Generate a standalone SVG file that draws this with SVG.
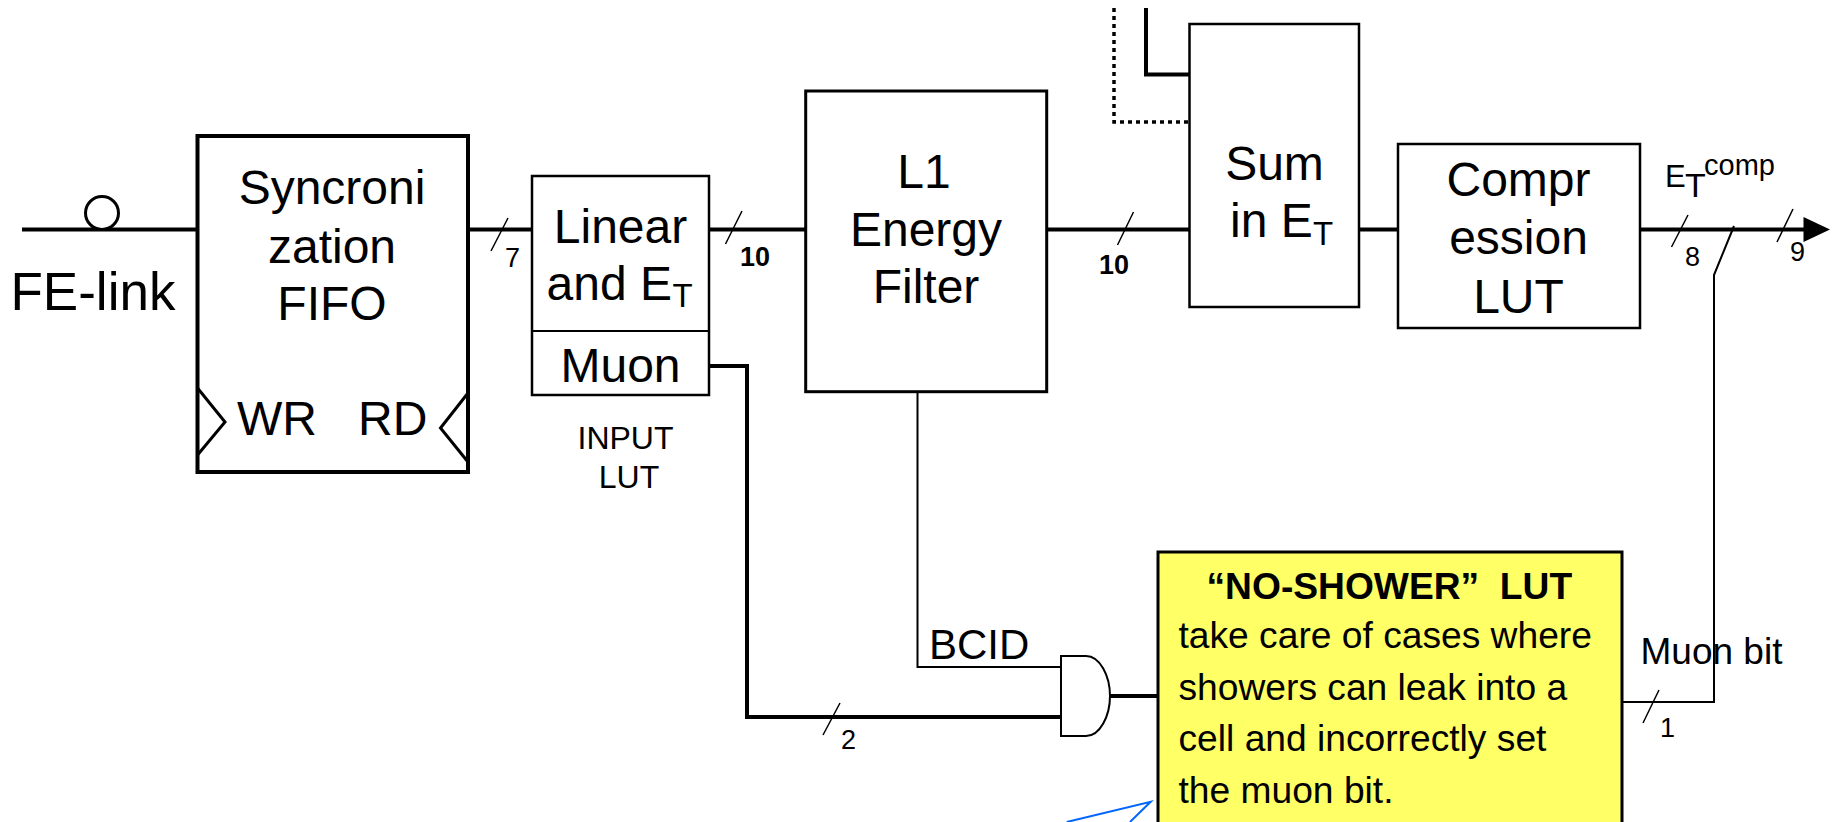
<svg xmlns="http://www.w3.org/2000/svg" width="1837" height="822" viewBox="0 0 1837 822">
<style>
text{font-family:"Liberation Sans",Arial,sans-serif;fill:#000;white-space:pre}
.box{fill:#fff;stroke:#000;stroke-width:2.5}
.thick{fill:none;stroke:#000;stroke-width:4}
.thin{fill:none;stroke:#000;stroke-width:2}
.tick{fill:none;stroke:#000;stroke-width:1.5}
.big{font-size:48px;text-anchor:middle}
.sub{font-size:33px}
.num{font-size:27px}
.numb{font-size:27px;font-weight:bold}
.body{font-size:37.200px}
</style>
<rect width="1837" height="822" fill="#fff"/>
<g id="connectors">
<path class="thick" d="M22 229.500H197M468 229.500H532M709 229.500H806M1045 229.500H1189M1359 229.500H1398M1640 229.500H1806"/>
<path class="thick" d="M709 366H747V717H1061"/>
<path class="thick" d="M1146 8V74.500H1189"/>
<path d="M1114 8V122H1189" fill="none" stroke="#000" stroke-width="3.500" stroke-dasharray="4 4"/>
<path class="thick" d="M1110 696H1158"/>
<path class="thin" d="M917.500 391V667H1061"/>
<path class="thin" d="M1622 702H1714V275L1734 226"/>
<polygon points="1830,229.500 1803.500,217 1803.500,242" fill="#000"/>
<path class="tick" d="M491 251L508 218M725.500 244L742 211M1117.500 245L1133.500 212M1671.500 247L1688 215M1777 242L1793 209M823 735L840 703M1643 723L1659 690"/>
<path d="M1066.700 822L1150.700 801.700L1130 822" fill="none" stroke="#0066ff" stroke-width="2"/>
</g>
<g id="fe-link">
<circle cx="102" cy="213" r="16.500" fill="#fff" stroke="#000" stroke-width="3"/>
<text x="10.500" y="310" font-size="53">FE-link</text>
</g>
<g id="sync-fifo">
<rect x="197.500" y="136" width="270.500" height="336" fill="#fff" stroke="#000" stroke-width="4"/>
<path fill="none" stroke="#000" stroke-width="3" d="M197.500 388L225 422L197.500 455M468 393L440.500 428L468 462"/>
<text class="big" x="332" y="204">Syncroni</text>
<text class="big" x="332" y="262.500">zation</text>
<text class="big" x="332" y="320">FIFO</text>
<text x="237" y="435" font-size="48">WR</text>
<text x="358" y="435" font-size="48">RD</text>
</g>
<g id="input-lut">
<rect class="box" x="532" y="176" width="177" height="219"/>
<path class="thin" d="M532 331H709"/>
<text class="big" x="620.500" y="242.500">Linear</text>
<text x="546.500" y="300" font-size="48">and E</text>
<text class="sub" x="672.500" y="307">T</text>
<text class="big" x="620.500" y="381.500">Muon</text>
<text x="625.500" y="449" font-size="32" text-anchor="middle">INPUT</text>
<text x="629" y="488" font-size="32" text-anchor="middle">LUT</text>
</g>
<g id="l1-filter">
<rect x="805.700" y="91" width="241" height="300.700" fill="#fff" stroke="#000" stroke-width="3"/>
<text class="big" x="924" y="188">L1</text>
<text class="big" x="926" y="246">Energy</text>
<text class="big" x="926" y="303">Filter</text>
</g>
<g id="sum">
<rect class="box" x="1189.500" y="24" width="169.500" height="283"/>
<text class="big" x="1274.500" y="180">Sum</text>
<text x="1230" y="237" font-size="48">in E</text>
<text class="sub" x="1313" y="245">T</text>
</g>
<g id="compression">
<rect class="box" x="1398" y="144" width="242" height="184"/>
<text class="big" x="1518.500" y="195.500">Compr</text>
<text class="big" x="1518.500" y="253.500">ession</text>
<text class="big" x="1518.500" y="312.500">LUT</text>
</g>
<g id="and-gate">
<path d="M1061 656H1086C1100 656 1110 676 1110 696C1110 716 1100 736 1086 736H1061Z" fill="#fff" stroke="#000" stroke-width="2"/>
</g>
<g id="no-shower">
<path d="M1158 823V552H1622V823" fill="#ffff66" stroke="#000" stroke-width="3"/>
<text class="body" x="1206.500" y="598.500" font-weight="bold">“NO-SHOWER”  LUT</text>
<text class="body" x="1178.500" y="648">take care of cases where</text>
<text class="body" x="1178.500" y="700">showers can leak into a</text>
<text class="body" x="1178.500" y="751">cell and incorrectly set</text>
<text class="body" x="1178.500" y="803">the muon bit.</text>
</g>
<g id="labels">
<text class="num" x="505" y="267">7</text>
<text class="numb" x="740" y="266">10</text>
<text class="numb" x="1099" y="274">10</text>
<text class="num" x="1685" y="266">8</text>
<text class="num" x="1790" y="261">9</text>
<text class="num" x="841" y="749">2</text>
<text class="num" x="1660" y="737">1</text>
<text x="929" y="658.500" font-size="42">BCID</text>
<text x="1640.500" y="663.500" font-size="37">Muon bit</text>
<text x="1665" y="187" font-size="31">E</text>
<text x="1685" y="197" font-size="34">T</text>
<text x="1704" y="175" font-size="29">comp</text>
</g>
</svg>
